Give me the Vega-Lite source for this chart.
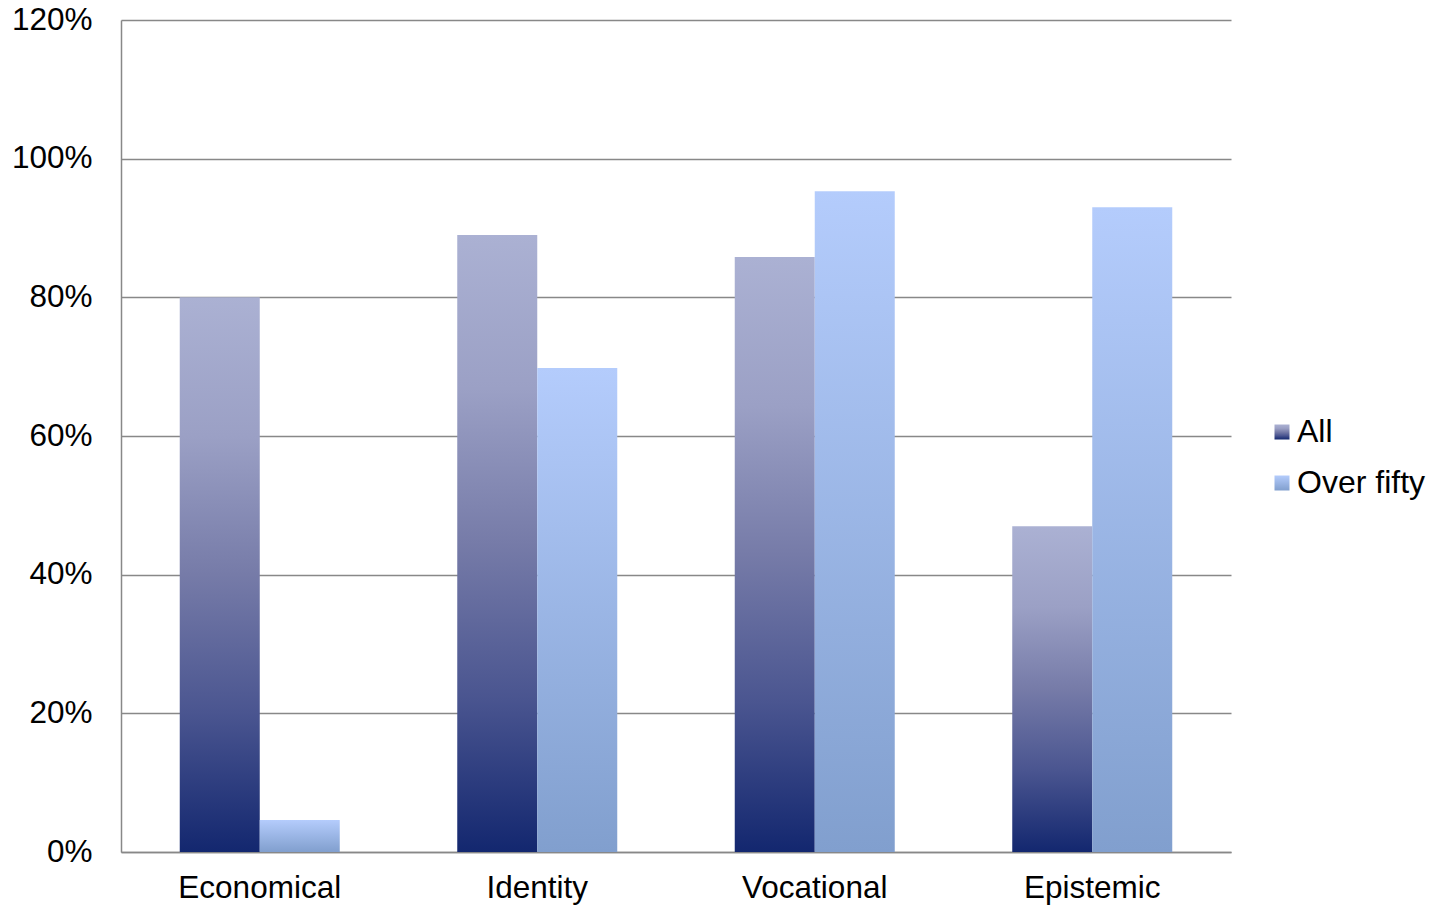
{
  "$schema": "https://vega.github.io/schema/vega-lite/v6.json",
  "width": 1110,
  "height": 832,
  "autosize": {"type": "none"},
  "padding": {"left": 121, "top": 20, "right": 210, "bottom": 56},
  "background": "white",
  "config": {
    "view": {"stroke": null},
    "font": "Liberation Sans"
  },
  "data": {
    "values": [
      {"category": "Economical", "group": "All", "value": 0.80},
      {"category": "Economical", "group": "Over fifty", "value": 0.046},
      {"category": "Identity", "group": "All", "value": 0.89},
      {"category": "Identity", "group": "Over fifty", "value": 0.698},
      {"category": "Vocational", "group": "All", "value": 0.858},
      {"category": "Vocational", "group": "Over fifty", "value": 0.953},
      {"category": "Epistemic", "group": "All", "value": 0.47},
      {"category": "Epistemic", "group": "Over fifty", "value": 0.93}
    ]
  },
  "encoding": {
    "x": {
      "field": "category",
      "type": "nominal",
      "sort": ["Economical", "Identity", "Vocational", "Epistemic"],
      "scale": {"paddingInner": 0.4234, "paddingOuter": 0.2117},
      "axis": {
        "title": null,
        "labelAngle": 0,
        "labelFontSize": 31.5,
        "labelColor": "#000000",
        "labelPadding": 20,
        "ticks": false,
        "domainColor": "#888888",
        "domainWidth": 1.5
      }
    },
    "xOffset": {"field": "group", "type": "nominal", "scale": {"domain": ["All", "Over fifty"], "paddingInner": 0, "paddingOuter": 0}},
    "y": {
      "field": "value",
      "type": "quantitative",
      "scale": {"domain": [0, 1.2], "nice": false},
      "axis": {
        "title": null,
        "values": [0, 0.2, 0.4, 0.6, 0.8, 1.0, 1.2],
        "format": ".0%",
        "labelFontSize": 31.5,
        "labelColor": "#000000",
        "labelPadding": 29,
        "ticks": false,
        "domainColor": "#888888",
        "domainWidth": 1.5,
        "gridColor": "#888888",
        "gridWidth": 1.5,
        "gridOpacity": 1
      }
    }
  },
  "layer": [
    {
      "transform": [{"filter": "datum.group === 'All'"}],
      "mark": {
        "type": "bar",
        "strokeWidth": 0,
        "fill": {"gradient": "linear", "x1": 0, "y1": 0, "x2": 0, "y2": 1, "stops": [{"offset": 0, "color": "#abb1d3"}, {"offset": 0.25, "color": "#9ba0c5"}, {"offset": 0.5, "color": "#767ba8"}, {"offset": 0.75, "color": "#4a5590"}, {"offset": 1, "color": "#13276f"}]}
      },
      "encoding": {
        "stroke": {
          "field": "group",
          "type": "nominal",
          "scale": {"domain": ["All"], "range": ["#5f6ca1"]},
          "legend": {
            "title": null,
            "orient": "none",
            "legendX": 1145,
            "legendY": 396,
            "padding": 0,
            "symbolType": "square",
            "symbolSize": 225,
            "symbolStrokeWidth": 0,
            "labelFontSize": 32,
            "labelColor": "#000000",
            "labelOffset": -1,
            "encode": {
              "symbols": {
                "update": {
                  "fill": {"value": {"gradient": "linear", "x1": 0, "y1": 0, "x2": 0, "y2": 1, "stops": [{"offset": 0, "color": "#abb1d3"}, {"offset": 0.5, "color": "#7a80ad"}, {"offset": 1, "color": "#13276f"}]}},
                  "strokeWidth": {"value": 0},
                  "opacity": {"value": 1}
                }
              }
            }
          }
        }
      }
    },
    {
      "transform": [{"filter": "datum.group === 'Over fifty'"}],
      "mark": {
        "type": "bar",
        "strokeWidth": 0,
        "fill": {"gradient": "linear", "x1": 0, "y1": 0, "x2": 0, "y2": 1, "stops": [{"offset": 0, "color": "#b4ccfc"}, {"offset": 1, "color": "#819fce"}]}
      },
      "encoding": {
        "opacity": {
          "field": "group",
          "type": "ordinal",
          "scale": {"domain": ["Over fifty"], "range": [1]},
          "legend": {
            "title": null,
            "orient": "none",
            "legendX": 1145,
            "legendY": 447,
            "padding": 0,
            "symbolType": "square",
            "symbolSize": 225,
            "symbolStrokeWidth": 0,
            "labelFontSize": 32,
            "labelColor": "#000000",
            "labelOffset": -1,
            "encode": {
              "symbols": {
                "update": {
                  "fill": {"value": {"gradient": "linear", "x1": 0, "y1": 0, "x2": 0, "y2": 1, "stops": [{"offset": 0, "color": "#b4ccfc"}, {"offset": 1, "color": "#819fce"}]}},
                  "strokeWidth": {"value": 0},
                  "opacity": {"value": 1}
                }
              }
            }
          }
        }
      }
    }
  ]
}
